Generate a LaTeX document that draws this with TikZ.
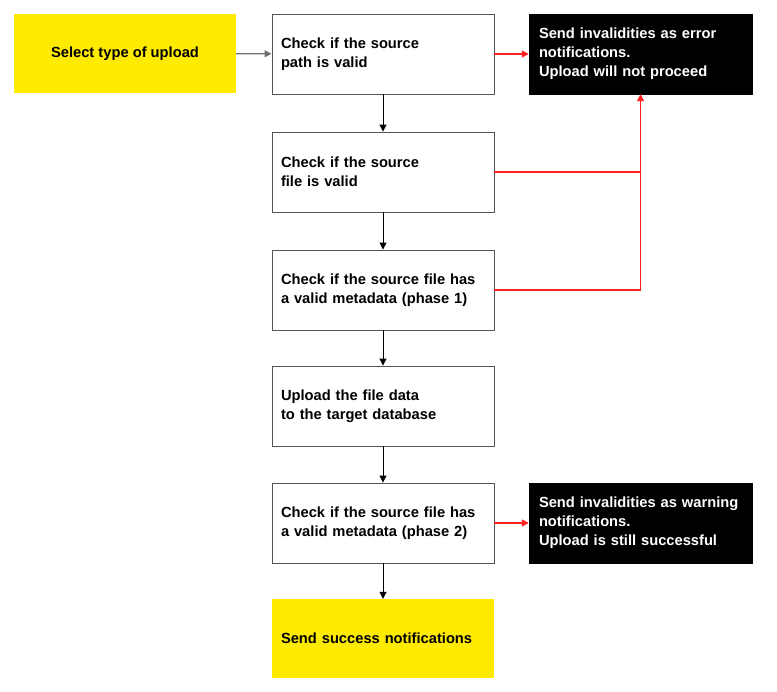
\documentclass[tikz,border=0pt]{standalone}
\usepackage{fontspec}
\setmainfont{Liberation Sans}
\usetikzlibrary{arrows.meta}
\definecolor{ybox}{HTML}{FFEB00}
\definecolor{bordergray}{HTML}{555555}
\definecolor{arrgray}{HTML}{707070}
\definecolor{redline}{HTML}{FF2020}
\begin{document}
\begin{tikzpicture}[x=1pt,y=-1pt,
  every node/.style={font=\fontsize{14.7}{19}\selectfont\bfseries},
  wbox/.style={draw=bordergray,line width=0.9pt,fill=white,minimum width=222pt,minimum height=80pt,text width=204pt,inner sep=0pt,align=left},
  bbox/.style={draw=black,fill=black,text=white,minimum width=223pt,minimum height=80pt,text width=203pt,inner sep=0pt,align=left},
  yboxl/.style={fill=ybox,minimum width=222pt,minimum height=79pt,text width=204pt,inner sep=0pt,align=left},
  yboxc/.style={fill=ybox,minimum width=222pt,minimum height=79pt,inner sep=0pt,align=center},
  blk/.style={draw=black,line width=1pt,-{Triangle[length=7pt,width=7pt]}},
  gry/.style={draw=arrgray,line width=1.3pt,-{Triangle[length=7pt,width=7pt]}},
  rd/.style={draw=redline,line width=1.5pt},
  rda/.style={rd,-{Triangle[length=7pt,width=7pt]}}]
\useasboundingbox (0,0) rectangle (777,692);
\node[yboxc] (sel) at (125,53.5) {Select type of upload};
\node[wbox] (A) at (383,54) {Check if the source\\path is valid};
\node[bbox] (err) at (640.5,54) {Send invalidities as error\\notifications.\\Upload will not proceed};
\node[wbox] (B) at (383,172) {Check if the source\\file is valid};
\node[wbox] (C) at (383,290) {Check if the source file has\\a valid metadata (phase 1)};
\node[wbox] (D) at (383,406) {Upload the file data\\to the target database};
\node[wbox] (E) at (383,523) {Check if the source file has\\a valid metadata (phase 2)};
\node[bbox] (warn) at (640.5,523) {Send invalidities as warning\\notifications.\\Upload is still successful};
\node[yboxl] (succ) at (383,638.5) {Send success notifications};
\draw[gry] (sel) -- (A);
\draw[rda] (A) -- (err);
\draw[blk] (A) -- (B);
\draw[blk] (B) -- (C);
\draw[blk] (C) -- (D);
\draw[blk] (D) -- (E);
\draw[blk] (E) -- (succ);
\draw[rd] (B.east) -- (B.east -| err.south);
\draw[rda] (C.east) -| (err.south);
\draw[rda] (E) -- (warn);
\end{tikzpicture}
\end{document}
